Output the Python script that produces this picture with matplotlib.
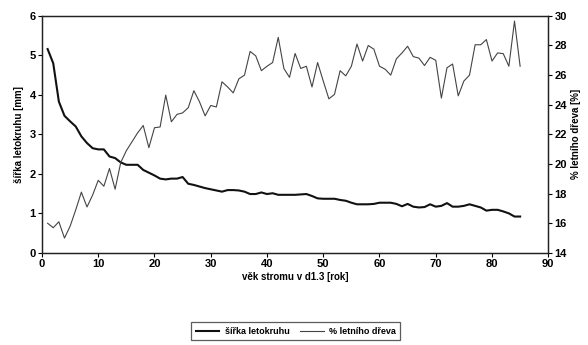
import matplotlib.pyplot as plt
import numpy as np

plt.rcParams['font.family'] = ['Liberation Sans', 'DejaVu Sans']

# tree age [years]
vek = np.arange(1, 86)

# ring width [mm]
sirka = [5.16, 4.80, 3.83, 3.47, 3.33, 3.20, 2.95, 2.78, 2.65, 2.62,
         2.62, 2.44, 2.40, 2.29, 2.23, 2.23, 2.23, 2.10, 2.03, 1.96,
         1.88, 1.86, 1.88, 1.88, 1.92, 1.75, 1.72, 1.68, 1.64, 1.61,
         1.58, 1.55, 1.59, 1.59, 1.58, 1.55, 1.49, 1.49, 1.53, 1.49,
         1.51, 1.47, 1.47, 1.47, 1.47, 1.48, 1.49, 1.44, 1.38, 1.37,
         1.37, 1.37, 1.34, 1.32, 1.27, 1.23, 1.23, 1.23, 1.24, 1.27,
         1.27, 1.27, 1.24, 1.18, 1.24, 1.17, 1.15, 1.16, 1.23, 1.17,
         1.19, 1.26, 1.17, 1.17, 1.19, 1.23, 1.19, 1.15, 1.07, 1.09,
         1.09, 1.05, 1.00, 0.92, 0.92]

# summer wood share [%]
letni = [16.0, 15.7, 16.1, 15.0, 15.8, 16.9, 18.1, 17.1, 17.9, 18.9,
         18.5, 19.7, 18.3, 20.1, 20.9, 21.5, 22.1, 22.6, 21.1, 22.45,
         22.5, 24.65, 22.85, 23.35, 23.45, 23.8, 24.95, 24.2, 23.25, 23.95,
         23.85, 25.55, 25.2, 24.8, 25.75, 26.0, 27.6, 27.3, 26.3, 26.6,
         26.85, 28.55, 26.45, 25.85, 27.46, 26.45, 26.6, 25.2, 26.85, 25.6,
         24.4, 24.7, 26.3, 25.95, 26.6, 28.1, 26.95, 28.0, 27.75, 26.6,
         26.4, 26.0, 27.1, 27.5, 27.95, 27.25, 27.15, 26.65, 27.2, 27.0,
         24.45, 26.5, 26.75, 24.6, 25.6, 26.0, 28.05, 28.05, 28.4, 26.95,
         27.5, 27.45, 26.6, 29.65, 26.6]

fig = plt.figure(figsize=(5.88, 3.45), dpi=100)
ax = fig.add_axes([0.0714, 0.267, 0.861, 0.687])
ax2 = ax.twinx()

l1, = ax.plot(vek, sirka, color='#111111', lw=1.5, label='šířka letokruhu')
l2, = ax2.plot(vek, letni, color='#444444', lw=0.8, label='% letního dřeva')

ax.set_xlim(0, 90)
ax.set_ylim(0, 6)
ax2.set_ylim(14, 30)
ax.set_xticks(np.arange(0, 91, 10))
ax.set_yticks(np.arange(0, 7, 1))
ax2.set_yticks(np.arange(14, 31, 2))

for a in (ax, ax2):
    a.tick_params(direction='out', length=3, width=0.8, labelsize=8, pad=1.5)
    for lab in a.get_xticklabels() + a.get_yticklabels():
        lab.set_fontweight('bold')
    for s in a.spines.values():
        s.set_linewidth(0.9)
        s.set_color('#222222')

ax.set_xlabel('věk stromu v d1.3 [rok]', fontsize=7, fontweight='bold', labelpad=2)
ax.set_ylabel('šířka letokruhu [mm]', fontsize=7, fontweight='bold', labelpad=4)
ax2.set_ylabel('% letního dřeva [%]', fontsize=7, fontweight='bold', labelpad=3)

leg = fig.legend(handles=[l1, l2], loc='center', bbox_to_anchor=(0.503, 0.04),
                 ncol=2, prop={'size': 6.5, 'weight': 'bold'}, frameon=True,
                 fancybox=False, handlelength=2.6, columnspacing=1.2,
                 borderpad=0.5, handletextpad=0.6)
leg.get_frame().set_edgecolor('#333333')
leg.get_frame().set_linewidth(0.9)

fig.savefig('out.png', dpi=100)
